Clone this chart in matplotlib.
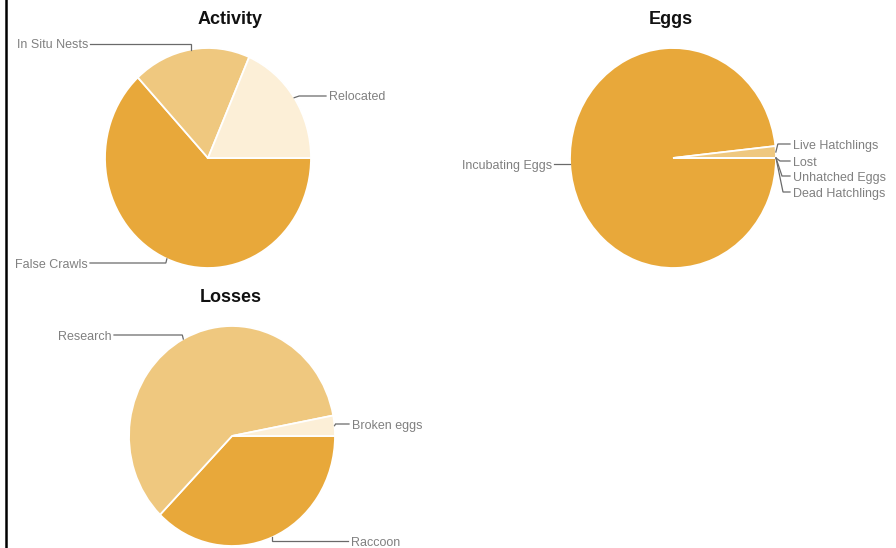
import matplotlib
matplotlib.use("Agg")
import matplotlib.pyplot as plt
import numpy as np

W, H, DPI = 896, 548, 100

# ---- data ----
activity_labels = ["False Crawls", "In Situ Nests", "Relocated"]
activity_values = [41, 12, 12]

egg_labels = ["Incubating Eggs", "Live Hatchlings", "Lost", "Unhatched Eggs", "Dead Hatchlings"]
egg_values = [1134, 20, 0, 0, 0]

loss_labels = ["Raccoon", "Research", "Broken eggs"]
loss_values = [25, 40, 2]

# ---- style ----
palette = ["#E8A83A", "#EFC87F", "#FCEFD7", "#FDF5E6", "#FEFAF2"]
TEXT_C = "#808080"
LINE_C = "#6a6a6a"
FONT = "Liberation Sans"
RX, RY = 103, 110  # pie radii in pixels (slightly elliptical)

fig = plt.figure(figsize=(W / DPI, H / DPI), dpi=DPI)
fig.patch.set_facecolor("white")

pies = []


def draw_pie(cx, cy, values, labels, title, title_xy, leaders):
    ax = fig.add_axes([(cx - RX) / W, 1 - (cy + RY) / H, 2 * RX / W, 2 * RY / H])
    wedges, _ = ax.pie(values, colors=palette[:len(values)], startangle=0,
                       counterclock=False, radius=1,
                       wedgeprops=dict(edgecolor="white", linewidth=1.3))
    ax.set_aspect("auto")
    ax.set_xlim(-1, 1)
    ax.set_ylim(-1, 1)
    ax.axis("off")
    pies.append((cx, cy, wedges, labels, title, title_xy, leaders))


# leader layout: label -> (elbow dx, label y, line end x, side, anchor override)
draw_pie(208, 158, activity_values, activity_labels, "Activity", (230, 18), {
    "False Crawls": (-1, 263, 90, "left", None),
    "In Situ Nests": (0, 44, 90, "left", None),
    "Relocated": (5, 96, 326, "right", None),
})
draw_pie(673, 158, egg_values, egg_labels, "Eggs", (671, 18), {
    "Incubating Eggs": (0, 164, 554, "left", (570, 164)),
    "Live Hatchlings": (2, 144, 790, "right", None),
    "Lost": (4, 161, 790, "right", None),
    "Unhatched Eggs": (6, 176, 790, "right", None),
    "Dead Hatchlings": (7, 192, 790, "right", None),
})
draw_pie(232, 436, loss_values, loss_labels, "Losses", (231, 296), {
    "Raccoon": (0, 541, 348, "right", None),
    "Research": (-1, 335, 114, "left", None),
    "Broken eggs": (1, 424, 349, "right", None),
})

overlay = fig.add_axes([0, 0, 1, 1], zorder=10)
overlay.set_xlim(0, W)
overlay.set_ylim(H, 0)
overlay.axis("off")

for cx, cy, wedges, labels, title, (tx, ty), leaders in pies:
    overlay.text(tx, ty + 1.5, title, ha="center", va="center", fontsize=13,
                 fontweight="bold", family=FONT, color="#111111")
    for w, lab in zip(wedges, labels):
        dx, ly, ex, side, anchor = leaders[lab]
        if anchor is None:
            m = np.deg2rad((w.theta1 + w.theta2) / 2)
            ax_, ay_ = cx + RX * np.cos(m), cy - RY * np.sin(m)
        else:
            ax_, ay_ = anchor
        overlay.plot([ax_, ax_ + dx, ex], [ay_, ly, ly], color=LINE_C,
                     lw=0.9, solid_joinstyle="miter")
        if side == "left":
            overlay.text(ex - 2, ly + 1.5, lab, ha="right", va="center", fontsize=9,
                         family=FONT, color=TEXT_C)
        else:
            overlay.text(ex + 3, ly + 1.5, lab, ha="left", va="center", fontsize=9,
                         family=FONT, color=TEXT_C)

# left frame line
overlay.plot([6, 6], [0, H], color="black", lw=1.8)

fig.savefig("out.png", dpi=DPI, facecolor="white")
